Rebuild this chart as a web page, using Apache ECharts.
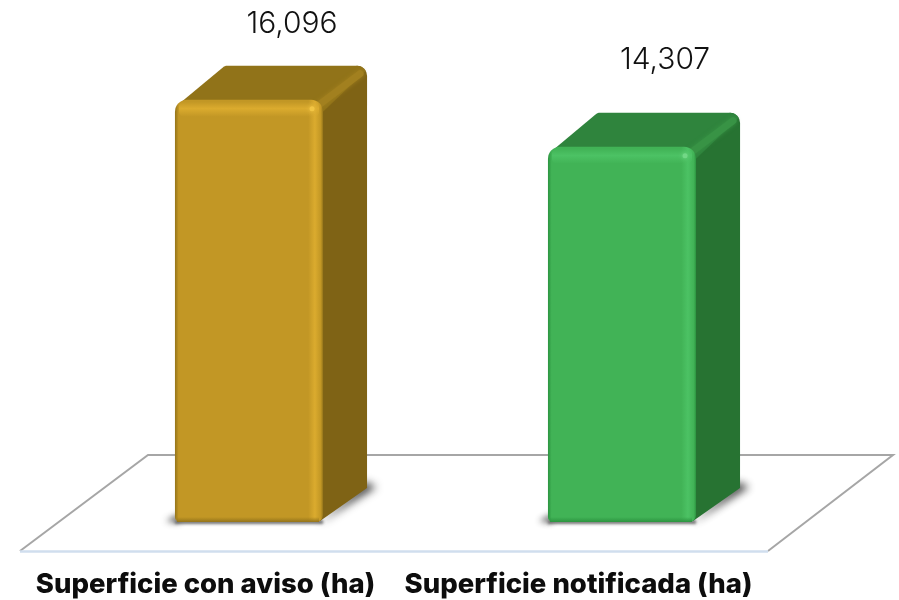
<!DOCTYPE html>
<html>
<head>
<meta charset="utf-8">
<script src="https://cdn.jsdelivr.net/npm/echarts@6/dist/echarts.min.js"></script>
<style>
html, body { margin: 0; padding: 0; background: #fff; }
#main { width: 899px; height: 600px; }
</style>
</head>
<body>
<div id="main"></div>
<script>
var categories = ['Superficie con aviso (ha)', 'Superficie notificada (ha)'];
var values = [16096, 14307];
var valueLabels = ['16,096', '14,307'];

var palette = [
	{ front: '#C29725', edge: '#94741A', light: '#DBAB2E', glow: '#F2C544', top: '#917319', topLight: '#A2801F', side: '#7F6315' },
	{ front: '#41B356', edge: '#2C9440', light: '#4CC264', glow: '#72D886', top: '#2F843D', topLight: '#389345', side: '#277332' }
];
// 数值标签到柱顶的距离
var labelLift = [76, 87];
// 阴影图形画在画布外，只留下模糊的影子
var OFF = 3000;

var chart = echarts.init(document.getElementById('main'), null, { renderer: 'canvas' });

// 圆角用几个点近似
function arc(cx, cy, r, from, to) {
	var pts = [];
	for (var k = 0; k <= 4; k++) {
		var a = (from + (to - from) * k / 4) * Math.PI / 180;
		pts.push([cx + r * Math.cos(a), cy + r * Math.sin(a)]);
	}
	return pts;
}

function softShadow(points, blur, color) {
	return {
		type: 'polygon',
		shape: {
			points: points.map(function (p) { return [p[0] - OFF, p[1]]; })
		},
		style: { fill: '#000', shadowBlur: blur, shadowColor: color, shadowOffsetX: OFF }
	};
}

function renderBar(params, api) {
	var i = params.dataIndex;
	var c = palette[i];
	var base = api.coord([api.value(0), 0]);
	var head = api.coord([api.value(0), api.value(1)]);
	var w = api.size([1, 0])[0] * 0.397;
	var dx = 44, dy = 34;
	var x = base[0] - w / 2;
	var y = head[1];
	var h = base[1] - head[1];
	var r = 12;
	var right = x + w + dx;
	var back = y - dy;
	var fade = echarts.color.modifyAlpha;

	return {
		type: 'group',
		children: [
			// 左侧阴影
			softShadow([[x - 9, base[1] - 1], [x + 4, base[1] - 8], [x + 4, base[1] + 1]], 6, 'rgba(70,70,70,0.9)'),
			// 底边阴影
			softShadow([[x, base[1] - 2], [x + w, base[1] - 2], [x + w, base[1] + 2], [x, base[1] + 2]], 3, 'rgba(90,90,90,0.85)'),
			// 右侧阴影
			softShadow([[x + w - 4, base[1] + 1], [right + 9, base[1] - dy - 1], [right - 2, base[1] - dy - 6]], 8, 'rgba(50,50,50,0.95)'),
			// 侧面
			{
				type: 'polygon',
				shape: {
					points: [[x + w - 12, y + 6], [right - 14, back + 1]]
						.concat(arc(right - 10, back + 10, 10, -90, 0))
						.concat([[right, base[1] - dy], [x + w - 3, base[1] - 1], [x + w - 12, base[1]]])
				},
				style: { fill: c.side }
			},
			// 顶面
			{
				type: 'polygon',
				shape: {
					points: [[x + 3, y + 5]]
						.concat(arc(x + dx + 8, back + 6, 6, -130, -90))
						.concat(arc(right - 10, back + 10, 10, -90, -30))
						.concat([[x + w, y + 12]])
				},
				style: { fill: c.top }
			},
			// 顶面右棱
			{
				type: 'line',
				shape: { x1: x + w - 4, y1: y + 5, x2: right - 7, y2: back + 8 },
				style: { stroke: c.topLight, lineWidth: 7, lineCap: 'round', shadowBlur: 4, shadowColor: c.topLight }
			},
			// 正面
			{
				type: 'rect',
				shape: { x: x, y: y, width: w, height: h, r: [r, r, 7, 5] },
				style: {
					fill: new echarts.graphic.LinearGradient(0, 0, 1, 0, [
						{ offset: 0, color: c.edge },
						{ offset: 0.025, color: c.front },
						{ offset: 0.9, color: c.front },
						{ offset: 0.945, color: c.light },
						{ offset: 0.985, color: c.front },
						{ offset: 1, color: c.edge }
					])
				}
			},
			// 顶部高光
			{
				type: 'rect',
				shape: { x: x + 4, y: y + 2, width: w - 8, height: 15, r: 5 },
				style: {
					fill: new echarts.graphic.LinearGradient(0, 0, 0, 1, [
						{ offset: 0, color: fade(c.light, 0) },
						{ offset: 0.45, color: c.light },
						{ offset: 1, color: fade(c.light, 0) }
					])
				}
			},
			// 高光点
			{
				type: 'circle',
				shape: { cx: x + w - 11, cy: y + 9, r: 2.5 },
				style: { fill: c.glow, shadowBlur: 4, shadowColor: c.glow }
			},
			// 底部暗边
			{
				type: 'rect',
				shape: { x: x + 2, y: base[1] - 5, width: w - 6, height: 5 },
				style: {
					fill: new echarts.graphic.LinearGradient(0, 0, 0, 1, [
						{ offset: 0, color: fade(c.edge, 0) },
						{ offset: 1, color: c.edge }
					])
				}
			},
			// 数值
			{
				type: 'text',
				style: {
					x: x + w / 2 + dx - 1,
					y: y - labelLift[i],
					text: valueLabels[i],
					fill: '#111111',
					font: '300 30px Inter',
					align: 'center',
					verticalAlign: 'middle'
				}
			}
		]
	};
}

var option = {
	animation: false,
	backgroundColor: '#ffffff',
	grid: { left: 62.5, right: 90.5, top: 0, bottom: 78 },
	graphic: {
		elements: [
			{
				type: 'polyline',
				z: -1,
				shape: { points: [[20, 551], [148, 455], [893, 455], [768, 551]] },
				style: { stroke: '#A6A6A6', lineWidth: 2, fill: null }
			},
			{
				type: 'line',
				z: -1,
				shape: { x1: 20, y1: 551.5, x2: 768, y2: 551.5 },
				style: { stroke: '#D0DEEE', lineWidth: 2.5 }
			}
		]
	},
	xAxis: {
		type: 'category',
		data: categories,
		axisLine: { show: false },
		axisTick: { show: false },
		axisLabel: {
			margin: 49,
			color: '#0D0D0D',
			fontFamily: 'Inter',
			fontWeight: 800,
			fontSize: 27.5,
			interval: 0,
			padding: [0, 87, 0, 0]
		}
	},
	yAxis: {
		type: 'value',
		min: 0,
		max: 19900,
		show: false
	},
	series: [
		{
			type: 'custom',
			renderItem: renderBar,
			encode: { x: 0, y: 1 },
			clip: false,
			data: values.map(function (v, i) { return [i, v]; })
		}
	]
};

chart.setOption(option);
</script>
</body>
</html>
